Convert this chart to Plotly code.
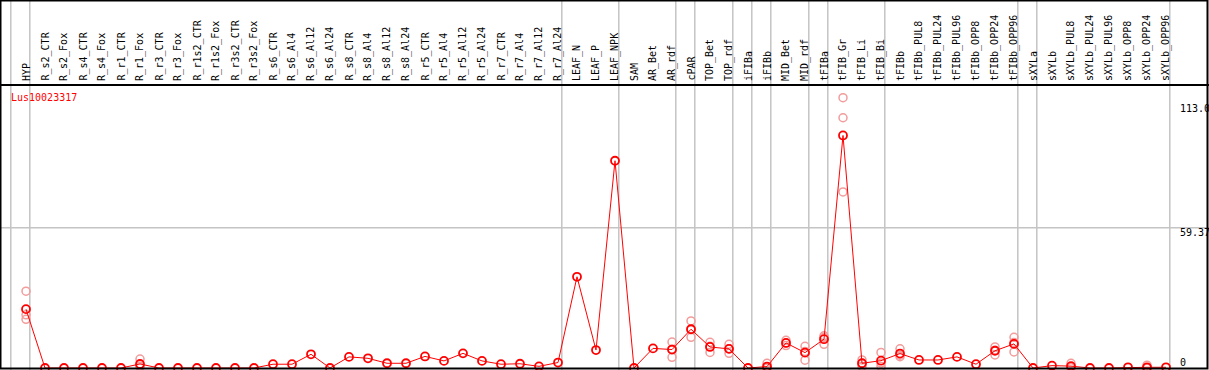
import plotly.graph_objects as go

W, H = 1209, 370

cats = ["HYP", "R_s2_CTR", "R_s2_Fox", "R_s4_CTR", "R_s4_Fox", "R_r1_CTR", "R_r1_Fox",
        "R_r3_CTR", "R_r3_Fox", "R_r1s2_CTR", "R_r1s2_Fox", "R_r3s2_CTR", "R_r3s2_Fox",
        "R_s6_CTR", "R_s6_Al4", "R_s6_Al12", "R_s6_Al24", "R_s8_CTR", "R_s8_Al4",
        "R_s8_Al12", "R_s8_Al24", "R_r5_CTR", "R_r5_Al4", "R_r5_Al12", "R_r5_Al24",
        "R_r7_CTR", "R_r7_Al4", "R_r7_Al12", "R_r7_Al24", "LEAF_N", "LEAF_P", "LEAF_NPK",
        "SAM", "AR_Bet", "AR_rdf", "cPAR", "TOP_Bet", "TOP_rdf", "iFIBa", "iFIBb",
        "MID_Bet", "MID_rdf", "tFIBa", "tFIB_Gr", "tFIB_Li", "tFIB_Bi", "tFIBb",
        "tFIBb_PUL8", "tFIBb_PUL24", "tFIBb_PUL96", "tFIBb_OPP8", "tFIBb_OPP24", "tFIBb_OPP96",
        "sXYLa", "sXYLb", "sXYLb_PUL8", "sXYLb_PUL24", "sXYLb_PUL96", "sXYLb_OPP8",
        "sXYLb_OPP24", "sXYLb_OPP96"]

means = [24.9, 0, 0, 0, 0, 0, 1.7, 0, 0, 0, 0, 0, 0,
         1.6, 1.6, 5.8, 0, 4.7, 4.1, 2.0, 2.0, 4.9, 3.0, 6.2, 3.0, 1.6, 1.8, 0.7, 2.3,
         38.6, 7.6, 87.7, 0, 8.3, 7.8, 16.4, 8.9, 8.1, 0, 0.6, 10.6, 6.5, 12.2,
         98.4, 2.0, 3.1, 6.1, 3.4, 3.4, 4.7, 1.6, 7.3, 10.2, 0, 1.0, 0.8, 0, 0, 0.3, 0.3, 0.3]

rep_cat = ["HYP"] * 3 + ["R_r1_Fox"] * 3 + ["AR_rdf"] * 3 + ["cPAR"] * 3 + ["TOP_Bet"] * 3 + \
          ["TOP_rdf"] * 3 + ["iFIBb"] * 3 + ["MID_Bet"] * 3 + ["MID_rdf"] * 3 + ["tFIBa"] * 3 + \
          ["tFIB_Gr"] * 3 + ["tFIB_Li"] * 3 + ["tFIB_Bi"] * 3 + ["tFIBb"] * 3 + \
          ["tFIBb_OPP24"] * 3 + ["tFIBb_OPP96"] * 3 + ["sXYLb_PUL8"] * 3 + ["sXYLb_OPP24"] * 3
rep_val = [32.5, 22.5, 20.6, 3.8, 0.7, 0.6, 11.0, 4.5, 7.9, 19.9, 13.0, 16.3,
           10.9, 6.6, 9.2, 10.0, 6.2, 8.1, 2.0, 0, 0, 11.7, 10.6, 9.5, 9.2, 3.3, 7.0,
           13.0, 10.0, 13.6, 114.4, 105.9, 74.5, 3.4, 0.6, 2.0, 6.6, 0.6, 2.1,
           8.1, 4.8, 5.4, 8.9, 5.5, 7.5, 13.0, 6.8, 10.8, 2.0, 0.2, 0.2, 1.2, 0, 0]

# group separators (after these category indices; -1 = left start)
sep_after = [-1, 0, 28, 31, 34, 35, 37, 38, 39, 41, 42, 45, 52, 53, 60]
ytick_vals = [113.0, 59.37, 0]
ytick_text = ["113.0", "59.37", "0"]
gene = "Lus10023317"

FONT = "DejaVu Sans Mono"
x0_px, step_px = 26.0, 19.0
zero_px = 368.0
scale = 140.3 / 59.37

xidx = {c: i for i, c in enumerate(cats)}

fig = go.Figure()
fig.add_trace(go.Scatter(
    x=[xidx[c] for c in rep_cat], y=rep_val, mode="markers",
    marker=dict(symbol="circle-open", size=8, color="#F29C9C", line=dict(width=1.5)),
    hoverinfo="skip", showlegend=False))
fig.add_trace(go.Scatter(
    x=list(range(len(cats))), y=means, mode="lines+markers",
    line=dict(color="#FF0000", width=1),
    marker=dict(symbol="circle-open", size=8, color="#FF0000", line=dict(width=1.8)),
    showlegend=False))

shapes = []
for s in sep_after:
    shapes.append(dict(type="line", xref="x", yref="paper", x0=s + 0.2, x1=s + 0.2, y0=0, y1=1,
                       line=dict(color="#C4C4C4", width=1.5), layer="below"))
shapes.append(dict(type="line", xref="paper", yref="y", x0=0, x1=1, y0=59.37, y1=59.37,
                   line=dict(color="#C4C4C4", width=1.5), layer="below"))
# frame
shapes.append(dict(type="rect", xref="paper", yref="paper", x0=0.5 / W, x1=1 - 1.5 / W,
                   y0=1.5 / H, y1=1 - 0.5 / H, line=dict(color="black", width=2)))
shapes.append(dict(type="line", xref="paper", yref="paper", x0=0, x1=1,
                   y0=1 - 85 / H, y1=1 - 85 / H, line=dict(color="black", width=2)))

ann = []
for i, c in enumerate(cats):
    ann.append(dict(x=i, y=1 - 83 / H, xref="x", yref="paper", text=c, textangle=-90,
                    showarrow=False, xanchor="center", yanchor="bottom",
                    font=dict(family=FONT, size=10, color="black")))
ypos = {"113.0": 108, "59.37": 232, "0": 362}
for v, t in zip(ytick_vals, ytick_text):
    ann.append(dict(x=1178 / W, y=1 - ypos[t] / H, xref="paper", yref="paper", text=t,
                    showarrow=False, xanchor="left", yanchor="middle",
                    font=dict(family=FONT, size=10, color="black")))
ann.append(dict(x=9 / W, y=1 - 98 / H, xref="paper", yref="paper", text=gene,
                showarrow=False, xanchor="left", yanchor="middle",
                font=dict(family=FONT, size=10, color="#FF0000")))

fig.update_layout(
    width=W, height=H, margin=dict(l=0, r=0, t=0, b=0),
    paper_bgcolor="white", plot_bgcolor="white",
    xaxis=dict(range=[-x0_px / step_px, (W - x0_px) / step_px], visible=False, fixedrange=True),
    yaxis=dict(range=[-(H - zero_px) / scale, zero_px / scale], visible=False, fixedrange=True),
    shapes=shapes, annotations=ann, showlegend=False)

fig.write_html("out.html", config={"displayModeBar": False},
               post_script="document.body.style.margin='0px';document.body.style.overflow='hidden';")
